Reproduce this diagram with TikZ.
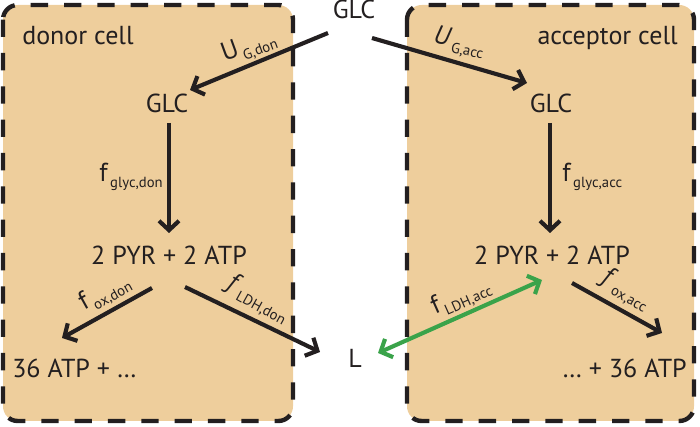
\documentclass[tikz,border=0pt]{standalone}
\usepackage{fontspec}
\setmainfont{PT Sans}
\usetikzlibrary{arrows.meta,calc}
\definecolor{cellfill}{RGB}{238,206,156}
\definecolor{ink}{RGB}{35,31,32}
\definecolor{lgreen}{RGB}{58,163,74}
\newcommand{\rate}[2]{#1\hspace{2pt}\raisebox{-4.5pt}{\fontsize{11}{13}\selectfont #2}}
\begin{document}
\begin{tikzpicture}[x=0.75pt,y=-0.75pt,
  font=\fontsize{19.5}{23}\selectfont, text=ink,
  cell/.style={draw=ink, fill=cellfill, line width=3.3pt, dash pattern=on 13pt off 12pt, rounded corners=11pt},
  txt/.style={inner sep=0pt},
  arr/.style={draw=ink, line width=3.1pt, -{Straight Barb[length=7pt,width=15pt]}},
  garr/.style={draw=lgreen, line width=3.1pt, {Straight Barb[length=7pt,width=15pt]}-{Straight Barb[length=7pt,width=15pt]}}]
\useasboundingbox (0,0) rectangle (700,427);
% cells
\path[cell] (3,5) rectangle (293,421);
\path[cell] (407,5) rectangle (694,421);
% labels
\node[txt, anchor=base west] (donor) at (22,45) {donor cell};
\node[txt, anchor=base east] (acceptor) at (678,45) {acceptor cell};
% species
\node[txt, anchor=base] (topglc) at (354,19) {GLC};
\node[txt, anchor=base] (glcd) at (167,113) {GLC};
\node[txt, anchor=base] (glca) at (551,113) {GLC};
\node[txt, anchor=base] (pyrd) at (169,265) {2 PYR + 2 ATP};
\node[txt, anchor=base] (pyra) at (552,265) {2 PYR + 2 ATP};
\node[txt, anchor=base west] (atpd) at (12,378) {36 ATP + \ldots};
\node[txt, anchor=base east] (atpa) at (687,378) {\ldots{} + 36 ATP};
\node[txt, anchor=base] (lac) at (355,368) {L};
% connectors
\draw[arr] ($(topglc.base)+(-26,14)$) -- ($(glcd.base)+(23,-23)$);
\draw[arr] ($(topglc.base)+(18,19)$) -- ($(glca.base)+(-24,-30)$);
\draw[arr] ($(glcd.base)+(2,10)$) -- ($(pyrd.base)+(0,-32)$);
\draw[arr] ($(glca.base)+(-1,10)$) -- ($(pyra.base)+(-2,-32)$);
\draw[arr] ($(pyrd.base)+(-17,23)$) -- ($(atpd.base west)+(50,-40)$);
\draw[arr] ($(pyrd.base)+(16,22)$) -- ($(lac.base)+(-35,-16)$);
\draw[garr] ($(lac.base)+(23,-15)$) -- ($(pyra.base)+(-10,15)$);
\draw[arr] ($(pyra.base)+(20,18)$) -- ($(atpa.base east)+(-25,-45)$);
% rate labels
\node[txt, rotate=20] (ugd) at (249,47) {\rate{U}{G,don}};
\node[txt, rotate=-12] (uga) at (459,43) {\rate{\textit{U}}{G,acc}};
\node[txt, anchor=base east] (fgd) at (163,182) {\rate{f}{glyc,don}};
\node[txt, anchor=base west] (fga) at (562,182) {\rate{f}{glyc,acc}};
\node[txt, rotate=29] (foxd) at (105,293) {\rate{f}{ox,don}};
\node[txt, rotate=-29] (fldhd) at (258,299) {\rate{\textit{f}}{LDH,don}};
\node[txt, rotate=24] (fldha) at (461,297) {\rate{f}{LDH,acc}};
\node[txt, rotate=-29] (foxa) at (626,290) {\rate{\textit{f}}{ox,acc}};
\end{tikzpicture}
\end{document}
